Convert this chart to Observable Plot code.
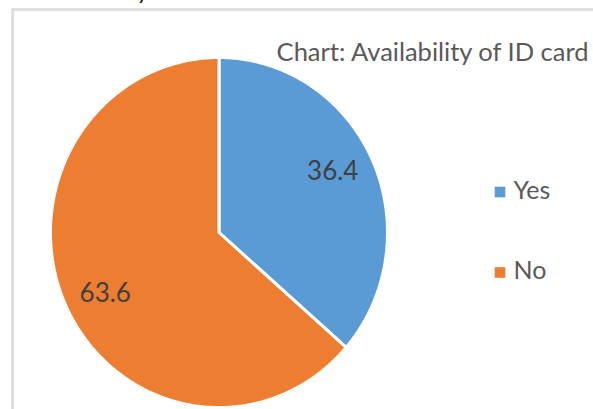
<!DOCTYPE html>
<html>
<head>
<meta charset="utf-8">
<script src="https://cdn.jsdelivr.net/npm/d3@7"></script>
<script src="https://cdn.jsdelivr.net/npm/@observablehq/plot@0.6"></script>
<style>
  html, body { margin: 0; padding: 0; background: #fff; }
  #chart { width: 593px; height: 409px; overflow: hidden; }
</style>
</head>
<body>
<div id="chart"></div>
<script>
const categories = ["Yes", "No"];
const values = [36.4, 63.6];
const colors = ["#5B9BD5", "#ED7D31"];
const title = "Chart: Availability of ID card";

const pie = d3.pie().sort(null).value(d => d.value)(
  categories.map((c, i) => ({ category: c, value: values[i] }))
);

// Build wedge outlines from the pie angles (angle 0 = top, clockwise)
const wedgePts = [];
for (const p of pie) {
  const n = Math.max(2, Math.ceil((p.endAngle - p.startAngle) / 0.01));
  wedgePts.push({ category: p.data.category, x: 0, y: 0 });
  for (let k = 0; k <= n; k++) {
    const a = p.startAngle + (p.endAngle - p.startAngle) * k / n;
    wedgePts.push({ category: p.data.category, x: Math.sin(a), y: Math.cos(a) });
  }
  wedgePts.push({ category: p.data.category, x: 0, y: 0 });
}

const labels = pie.map(p => {
  const a = (p.startAngle + p.endAngle) / 2 - 0.05;
  return { text: String(p.data.value), x: 0.76 * Math.sin(a), y: 0.76 * Math.cos(a) };
});

const font = "Lato, 'Open Sans', sans-serif";

const legendMarks = categories.flatMap((c, i) => [
  Plot.dot([c], {
    frameAnchor: "top-left", dx: 499.5, dy: 191.5 + i * 80.5,
    symbol: "square", r: 6, fill: d => d, stroke: null
  }),
  Plot.text([c], {
    text: d => d, frameAnchor: "top-left", lineAnchor: "middle", dx: 513, dy: 190 + i * 80,
    textAnchor: "start", fill: "#595959", fontSize: 25
  })
]);

const chart = Plot.plot({
  width: 593,
  height: 409,
  margin: 0,
  x: { domain: [-1, 1], range: [50, 387], axis: null },
  y: { domain: [-1, 1], range: [407, 57], axis: null },
  color: { domain: categories, range: colors },
  style: { fontFamily: font, background: "#fff" },
  marks: [
    Plot.frame({ stroke: "#d9d9d9", strokeWidth: 2.5, insetLeft: 12, insetTop: 9, insetRight: -20, insetBottom: -20 }),
    Plot.line(wedgePts, {
      x: "x", y: "y", z: "category", fill: "category",
      stroke: "white", strokeWidth: 3, strokeLinejoin: "miter", curve: "linear"
    }),
    Plot.text(labels, {
      x: "x", y: "y", text: "text", fill: "#404040", fontSize: 26, textAnchor: "middle"
    }),
    Plot.text([title], {
      text: d => d, frameAnchor: "top-right", lineAnchor: "middle", dx: -5, dy: 52,
      fill: "#595959", fontSize: 25.5
    }),
    Plot.text(["y"], {
      text: d => d, frameAnchor: "top-left", lineAnchor: "middle", dx: 136, dy: -9,
      fill: "#222", fontSize: 24
    }),
    ...legendMarks
  ]
});
document.getElementById("chart").appendChild(chart);
</script>
</body>
</html>
